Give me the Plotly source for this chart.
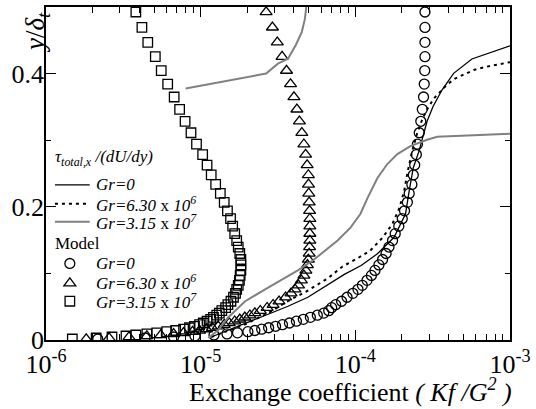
import plotly.graph_objects as go

# ---- Model results (markers): shared wall-normal grid y/delta_t ----
y_model = [0.0015, 0.0030, 0.0045, 0.0060, 0.0075, 0.0091, 0.0107, 0.0125, 0.0143, 0.0163,
           0.0184, 0.0206, 0.0230, 0.0255, 0.0282, 0.0310, 0.0340, 0.0372, 0.0404, 0.0440,
           0.0485, 0.0530, 0.0582, 0.0642, 0.0701, 0.0761, 0.0821, 0.0896, 0.0970, 0.1045,
           0.1127, 0.1209, 0.1299, 0.1396, 0.1493, 0.1597, 0.1709, 0.1821, 0.1940, 0.2067,
           0.2201, 0.2336, 0.2478, 0.2627, 0.2784, 0.2940, 0.3112, 0.3284, 0.3463, 0.3649,
           0.3843, 0.4045, 0.4254, 0.4470, 0.4694, 0.4925]

model_gr0 = [2.16e-6, 4.37e-6, 6.69e-6, 9.19e-6, 1.22e-5, 1.48e-5, 1.73e-5, 2.02e-5, 2.24e-5, 2.48e-5,
             2.75e-5, 3.05e-5, 3.38e-5, 3.75e-5, 4.16e-5, 4.61e-5, 5.12e-5, 5.68e-5, 6.25e-5, 6.73e-5,
             7.03e-5, 7.46e-5, 8.15e-5, 8.84e-5, 9.64e-5, 1.04e-4, 1.11e-4, 1.19e-4, 1.27e-4, 1.34e-4,
             1.42e-4, 1.50e-4, 1.58e-4, 1.65e-4, 1.74e-4, 1.81e-4, 1.91e-4, 2.01e-4, 2.08e-4, 2.17e-4,
             2.23e-4, 2.32e-4, 2.37e-4, 2.42e-4, 2.48e-4, 2.52e-4, 2.59e-4, 2.65e-4, 2.71e-4, 2.76e-4,
             2.79e-4, 2.81e-4, 2.82e-4, 2.82e-4, 2.82e-4, 2.82e-4]

model_gr630e6 = [1.82e-6, 2.56e-6, 3.44e-6, 4.49e-6, 5.52e-6, 6.69e-6, 7.75e-6, 8.86e-6, 9.84e-6, 1.09e-5,
                 1.19e-5, 1.30e-5, 1.42e-5, 1.53e-5, 1.66e-5, 1.79e-5, 1.93e-5, 2.08e-5, 2.24e-5, 2.43e-5,
                 2.69e-5, 2.94e-5, 3.21e-5, 3.54e-5, 3.84e-5, 4.07e-5, 4.29e-5, 4.48e-5, 4.65e-5, 4.79e-5,
                 4.90e-5, 4.97e-5, 5.03e-5, 5.06e-5, 5.08e-5, 5.08e-5, 5.08e-5, 5.08e-5, 5.06e-5, 5.03e-5,
                 5.00e-5, 4.98e-5, 4.97e-5, 4.88e-5, 4.77e-5, 4.65e-5, 4.51e-5, 4.35e-5, 4.19e-5, 4.01e-5,
                 3.81e-5, 3.59e-5, 3.36e-5, 3.13e-5, 2.91e-5, 2.65e-5]

model_gr315e7 = [1.48e-6, 2.11e-6, 2.67e-6, 3.29e-6, 3.81e-6, 4.49e-6, 5.20e-6, 6.03e-6, 6.89e-6, 7.75e-6,
                 8.47e-6, 9.12e-6, 9.84e-6, 1.04e-5, 1.10e-5, 1.16e-5, 1.21e-5, 1.27e-5, 1.32e-5, 1.37e-5,
                 1.45e-5, 1.50e-5, 1.57e-5, 1.63e-5, 1.68e-5, 1.71e-5, 1.75e-5, 1.78e-5, 1.80e-5, 1.82e-5,
                 1.82e-5, 1.82e-5, 1.79e-5, 1.75e-5, 1.71e-5, 1.66e-5, 1.61e-5, 1.56e-5, 1.49e-5, 1.42e-5,
                 1.34e-5, 1.25e-5, 1.17e-5, 1.10e-5, 1.03e-5, 9.40e-6, 8.66e-6, 7.93e-6, 7.31e-6, 6.74e-6,
                 6.12e-6, 5.56e-6, 5.09e-6, 4.55e-6, 4.17e-6, 3.81e-6]

# ---- tau_total,x / (dU/dy) (lines) ----
tau_gr0_x = [1.17e-5, 1.75e-5, 2.73e-5, 3.67e-5, 4.93e-5, 6.63e-5, 8.49e-5, 1.09e-4, 1.39e-4, 1.78e-4,
             2.11e-4, 2.23e-4, 2.37e-4, 2.58e-4, 2.77e-4, 2.91e-4, 3.18e-4, 3.64e-4, 4.32e-4, 5.67e-4, 1.0e-3]
tau_gr0_y = [0.0045, 0.0209, 0.0388, 0.0507, 0.0642, 0.0836, 0.0985, 0.1119, 0.1294, 0.1542,
             0.1891, 0.2239, 0.2587, 0.2836, 0.3085, 0.3284, 0.3507, 0.3757, 0.4004, 0.4219, 0.4418]

tau_gr630e6_x = [1.17e-5, 1.89e-5, 2.73e-5, 3.84e-5, 4.72e-5, 6.63e-5, 8.27e-5, 1.03e-4, 1.25e-4, 1.50e-4,
                 1.74e-4, 1.93e-4, 2.07e-4, 2.17e-4, 2.33e-4, 2.51e-4, 2.71e-4, 2.91e-4, 3.22e-4, 3.53e-4,
                 3.92e-4, 4.41e-4, 5.03e-4, 5.84e-4, 7.07e-4, 8.57e-4, 1.0e-3]
tau_gr630e6_y = [0.0045, 0.0224, 0.0403, 0.0612, 0.0716, 0.0925, 0.1104, 0.1224, 0.1343, 0.1537,
                 0.1746, 0.1985, 0.2239, 0.2507, 0.2836, 0.3104, 0.3313, 0.3463, 0.3627, 0.3731,
                 0.3836, 0.3925, 0.3990, 0.4055, 0.4104, 0.4139, 0.4172]

tau_gr315e7_x = [1.12e-5, 1.30e-5, 1.51e-5, 1.94e-5, 2.61e-5, 3.31e-5, 4.25e-5, 5.31e-5, 6.63e-5, 7.68e-5,
                 9.31e-5, 1.08e-4, 1.20e-4, 1.39e-4, 1.61e-4, 1.87e-4, 2.27e-4, 2.91e-4, 3.38e-4, 1.0e-3,
                 None,
                 7.99e-6, 2.65e-5, 3.16e-5, 3.67e-5, 4.13e-5, 4.51e-5, 4.72e-5, 4.82e-5]
tau_gr315e7_y = [0.0030, 0.0149, 0.0343, 0.0582, 0.0761, 0.0896, 0.1045, 0.1194, 0.1373, 0.1493,
                 0.1687, 0.1896, 0.2134, 0.2433, 0.2642, 0.2791, 0.2910, 0.3007, 0.3052, 0.3097,
                 None,
                 0.3776, 0.4000, 0.4149, 0.4224, 0.4433, 0.4627, 0.4821, 0.5000]

x_ticks = [1e-6, 1e-5, 1e-4, 1e-3]
x_ticktext = ["10<sup>-6</sup>", "10<sup>-5</sup>", "10<sup>-4</sup>", "10<sup>-3</sup>"]
x_minor = [m * 10.0 ** e for e in (-6, -5, -4) for m in range(2, 10)]
y_ticks = [0, 0.2, 0.4]
y_ticktext = ["0", "0.2", "0.4"]
y_minor = [0.1, 0.3, 0.5]

SERIF = "Liberation Serif"
TAU_TITLE = "<i>τ<sub>total,x</sub> /(dU/dy)</i>"
LBL_GR0 = "<i>Gr=0</i>"
LBL_GR6 = "<i>Gr=6.30</i> x <i>10<sup>6</sup></i>"
LBL_GR7 = "<i>Gr=3.15</i> x <i>10<sup>7</sup></i>"

fig = go.Figure()

mk_line = dict(width=1.3, color="black")
fig.add_trace(go.Scatter(x=model_gr0, y=y_model, mode="markers",
                         marker=dict(color="black", size=10, symbol="circle-open", line=mk_line),
                         name="Model " + LBL_GR0))
fig.add_trace(go.Scatter(x=model_gr630e6, y=y_model, mode="markers",
                         marker=dict(color="black", size=10.5, symbol="triangle-up-open", line=mk_line),
                         name="Model " + LBL_GR6))
fig.add_trace(go.Scatter(x=model_gr315e7, y=y_model, mode="markers",
                         marker=dict(color="black", size=9.5, symbol="square-open", line=mk_line),
                         name="Model " + LBL_GR7))

fig.add_trace(go.Scatter(x=tau_gr0_x, y=tau_gr0_y, mode="lines",
                         line=dict(color="black", width=1.3), name=LBL_GR0))
fig.add_trace(go.Scatter(x=tau_gr630e6_x, y=tau_gr630e6_y, mode="lines",
                         line=dict(color="black", width=2, dash="3px,4px"), name=LBL_GR6))
fig.add_trace(go.Scatter(x=tau_gr315e7_x, y=tau_gr315e7_y, mode="lines",
                         line=dict(color="#808080", width=2), connectgaps=False, name=LBL_GR7))

axis_common = dict(showline=True, linecolor="black", linewidth=1.5, mirror="allticks",
                   ticks="inside", ticklen=10, tickwidth=1.2, tickcolor="black",
                   showgrid=False, zeroline=False,
                   tickfont=dict(family=SERIF, size=26, color="black"))

# ---- hand-made legend (paper coordinates) ----
def px_x(p):
    return (p - 46) / 467.0

def px_y(p):
    return (340 - p) / 335.0

leg_font = dict(family=SERIF, size=17, color="black")
annotations = []
shapes = []

def add_text(txt, xp, yp):
    annotations.append(dict(text=txt, xref="paper", yref="paper", x=px_x(xp), y=px_y(yp),
                            xanchor="left", yanchor="middle", showarrow=False, font=leg_font))

add_text(TAU_TITLE, 53, 157)
for txt, yy, style in [(LBL_GR0, 184, dict(color="black", width=1.3)),
                       (LBL_GR6, 203, dict(color="black", width=2, dash="3px,4px")),
                       (LBL_GR7, 221, dict(color="#808080", width=2))]:
    shapes.append(dict(type="line", xref="paper", yref="paper",
                       x0=px_x(55), x1=px_x(90), y0=px_y(yy), y1=px_y(yy), line=style))
    add_text(txt, 94, yy)
add_text("Model", 53, 243)
sym_line = dict(color="black", width=1.3)
shapes.append(dict(type="circle", xref="paper", yref="paper",
                   x0=px_x(65), x1=px_x(75), y0=px_y(268), y1=px_y(258), line=sym_line))
add_text(LBL_GR0, 94, 263)
shapes.append(dict(type="path", xref="paper", yref="paper", line=sym_line,
                   path="M {:.4f},{:.4f} L {:.4f},{:.4f} L {:.4f},{:.4f} Z".format(
                       px_x(64), px_y(285.5), px_x(76), px_y(285.5), px_x(70), px_y(277.5))))
add_text(LBL_GR6, 94, 282)
shapes.append(dict(type="rect", xref="paper", yref="paper",
                   x0=px_x(65.2), x1=px_x(74.8), y0=px_y(305.8), y1=px_y(296.2), line=sym_line))
add_text(LBL_GR7, 94, 301)

annotations.append(dict(text="Exchange coefficient <i>( Kf /G<sup>2</sup> )</i>",
                        xref="paper", yref="paper", x=px_x(517), y=px_y(391),
                        xanchor="right", yanchor="middle", showarrow=False,
                        font=dict(family=SERIF, size=26, color="black")))
annotations.append(dict(text="<i>y</i>/<i>δ<sub>t</sub></i>",
                        xref="paper", yref="paper", x=-0.019, y=px_y(31),
                        xanchor="center", yanchor="middle", textangle=-90, showarrow=False,
                        font=dict(family=SERIF, size=27, color="black")))

fig.update_layout(
    width=536, height=409,
    margin=dict(l=46, r=23, t=5, b=69),
    paper_bgcolor="white", plot_bgcolor="white",
    showlegend=False,
    xaxis=dict(axis_common, type="log", range=[-6, -3],
               tickvals=x_ticks, ticktext=x_ticktext,
               minor=dict(tickvals=x_minor, ticks="inside", ticklen=6, tickwidth=1,
                          tickcolor="black", showgrid=False)),
    yaxis=dict(axis_common, range=[0, 0.5],
               tickvals=y_ticks, ticktext=y_ticktext, ticklabelstandoff=-5,
               minor=dict(tickvals=y_minor, ticks="inside", ticklen=5, tickwidth=1,
                          tickcolor="black", showgrid=False)),
    shapes=shapes,
    annotations=annotations,
)

fig.write_html("out.html")
